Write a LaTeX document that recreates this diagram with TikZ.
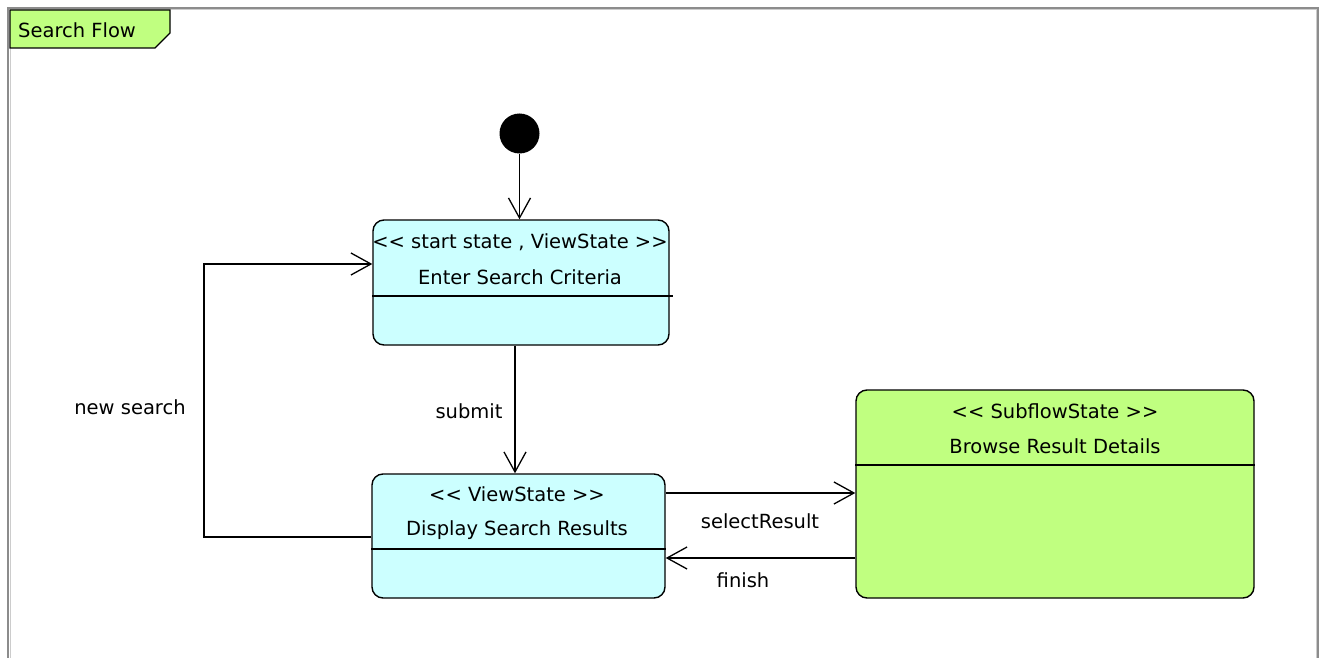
\documentclass[tikz,border=0pt]{standalone}
\usepackage{fontspec}
\setmainfont{DejaVu Sans}
\usetikzlibrary{arrows.meta}
\definecolor{viewfill}{HTML}{CCFFFF}
\definecolor{subfill}{HTML}{C0FF80}
\definecolor{framegray}{HTML}{8C8C8C}
\begin{document}
\begin{tikzpicture}[x=1pt,y=-1pt,
  every node/.style={font=\fontsize{19.5}{22}\selectfont, inner sep=0pt},
  statebox/.style={draw=black, line width=1.4pt, rounded corners=11pt},
  viewbox/.style={statebox, fill=viewfill},
  subbox/.style={statebox, fill=subfill},
  divider/.style={draw=black, line width=1.4pt},
  arr/.style={draw=black, line width=1.3pt, -{Straight Barb[length=20pt,width=22pt]}},
  lbl/.style={text=black}]
\useasboundingbox (0,0) rectangle (1320,658);
\fill[white] (0,0) rectangle (1320,658);
% frame
\draw[framegray, line width=2pt] (8,658) -- (8,8) -- (1318,8) -- (1318,658);
\draw[black!20, line width=1pt] (10,658) -- (10,10) -- (1316,10) -- (1316,658);
% title tab
\draw[black, line width=1.3pt, fill=subfill] (10,10) -- (170,10) -- (170,33) -- (155,48) -- (10,48) -- cycle;
\node[lbl, anchor=west] (title) at (18,30) {Search Flow};
% initial state
\node[circle, fill=black, minimum size=40pt] (init) at (519.5,133.5) {};
% states
\node[viewbox, minimum width=296pt, minimum height=125pt] (esc) at (521,282.5) {};
\node[viewbox, minimum width=293pt, minimum height=124pt] (dsr) at (518.5,536) {};
\node[subbox, minimum width=398pt, minimum height=208pt] (brd) at (1055,494) {};
% texts in states
\node[lbl] (escst) at (520,242) {<{}< start state , ViewState >{}>};
\node[lbl] (escnm) at (520,277) {Enter Search Criteria};
\node[lbl] (dsrst) at (517,494) {<{}< ViewState >{}>};
\node[lbl] (dsrnm) at (517,530) {Display Search Results};
\node[lbl] (brdst) at (1055,411) {<{}< SubflowState >{}>};
\node[lbl] (brdnm) at (1055,446) {Browse Result Details};
% dividers
\coordinate (escdiv) at (0,296);
\coordinate (dsrdiv) at (0,549);
\coordinate (brddiv) at (0,465);
\draw[divider] (esc.west |- escdiv) -- ([xshift=3pt]esc.east |- escdiv);
\draw[divider] (dsr.west |- dsrdiv) -- (dsr.east |- dsrdiv);
\draw[divider] (brd.west |- brddiv) -- (brd.east |- brddiv);
% transitions
\draw[arr] (init.south) -- (init.south |- esc.north);
\draw[arr] ([xshift=-6pt]esc.south) -- ([xshift=-6pt]esc.south |- dsr.north);
\draw[arr] ([yshift=43pt]dsr.east) -- ([yshift=43pt]dsr.east -| brd.west);
\draw[arr] ([yshift=-22pt]dsr.east -| brd.west) -- ([yshift=-22pt]dsr.east);
\coordinate (nsb) at (204,537);
\coordinate (nst) at (204,264);
\draw[arr] (dsr.west |- nsb) -- (nsb) -- (nst) -- (nst -| esc.west);
% transition labels
\node[lbl] (submitl) at (469,411) {submit};
\node[lbl] (selectl) at (760,521) {selectResult};
\node[lbl] (finishl) at (743,580) {finish};
\node[lbl] (newl) at (130,407) {new search};
\end{tikzpicture}
\end{document}
